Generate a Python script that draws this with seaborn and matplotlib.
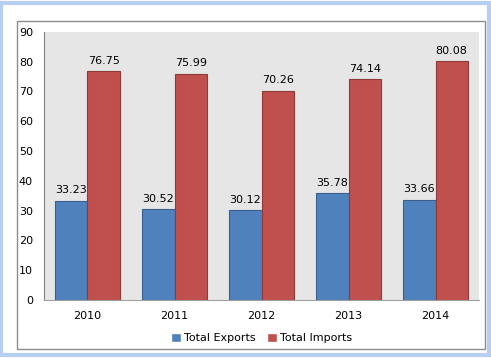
import numpy as np
import pandas as pd
import matplotlib
matplotlib.use("Agg")
import matplotlib.pyplot as plt
import seaborn as sns
from matplotlib.patches import Rectangle

years = ["2010", "2011", "2012", "2013", "2014"]
exports = [33.23, 30.52, 30.12, 35.78, 33.66]
imports = [76.75, 75.99, 70.26, 74.14, 80.08]
series = ["Total Exports", "Total Imports"]

df = pd.DataFrame({
    "year": years * 2,
    "value": exports + imports,
    "series": [series[0]] * len(years) + [series[1]] * len(years),
})

sns.set_style("white")
plt.rcParams["font.family"] = ["DejaVu Sans"]
plt.rcParams["font.size"] = 8
plt.rcParams["text.color"] = "black"
plt.rcParams["xtick.color"] = "black"
plt.rcParams["ytick.color"] = "black"

fig = plt.figure(figsize=(4.91, 3.58), dpi=100)
fig.patch.set_facecolor("white")

# outer frame and chart-area border
fig.patches.append(Rectangle((0.003, 0.007), 0.992, 0.986, transform=fig.transFigure,
                             fill=False, edgecolor="#b6cff0", linewidth=3))
fig.patches.append(Rectangle((0.0346, 0.025), 0.953, 0.916, transform=fig.transFigure,
                             fill=False, edgecolor="#8c8c8c", linewidth=1))

ax = fig.add_axes([0.0896, 0.162, 0.886, 0.749])
ax.set_facecolor("#e6e6e6")

palette = {"Total Exports": "#4f81bd", "Total Imports": "#c0504d"}
sns.barplot(data=df, x="year", y="value", hue="series", palette=palette,
            width=0.74, ax=ax, saturation=1, legend=True)

edges = {"Total Exports": "#3a5f8c", "Total Imports": "#8e3a38"}
for cont, name in zip(ax.containers, series):
    for bar in cont:
        bar.set_edgecolor(edges[name])
        bar.set_linewidth(0.8)
    ax.bar_label(cont, fmt="%.2f", padding=4, fontsize=8, color="black")

ax.set_ylim(0, 90)
ax.set_yticks(range(0, 91, 10))
ax.set_xlim(-0.5, 4.5)
ax.set_xlabel("")
ax.set_ylabel("")
ax.tick_params(axis="y", length=0, pad=8)
ax.tick_params(axis="x", length=0, pad=8)
for s in ["top", "right"]:
    ax.spines[s].set_visible(False)
ax.spines["left"].set_color("#808080")
ax.spines["bottom"].set_color("#a0a0a0")

ax.legend(loc="upper center", bbox_to_anchor=(0.5, -0.085), ncol=2, frameon=False,
          handlelength=0.9, handleheight=0.9, handletextpad=0.3, columnspacing=1.0,
          fontsize=8)

fig.savefig("out.png", dpi=100)
